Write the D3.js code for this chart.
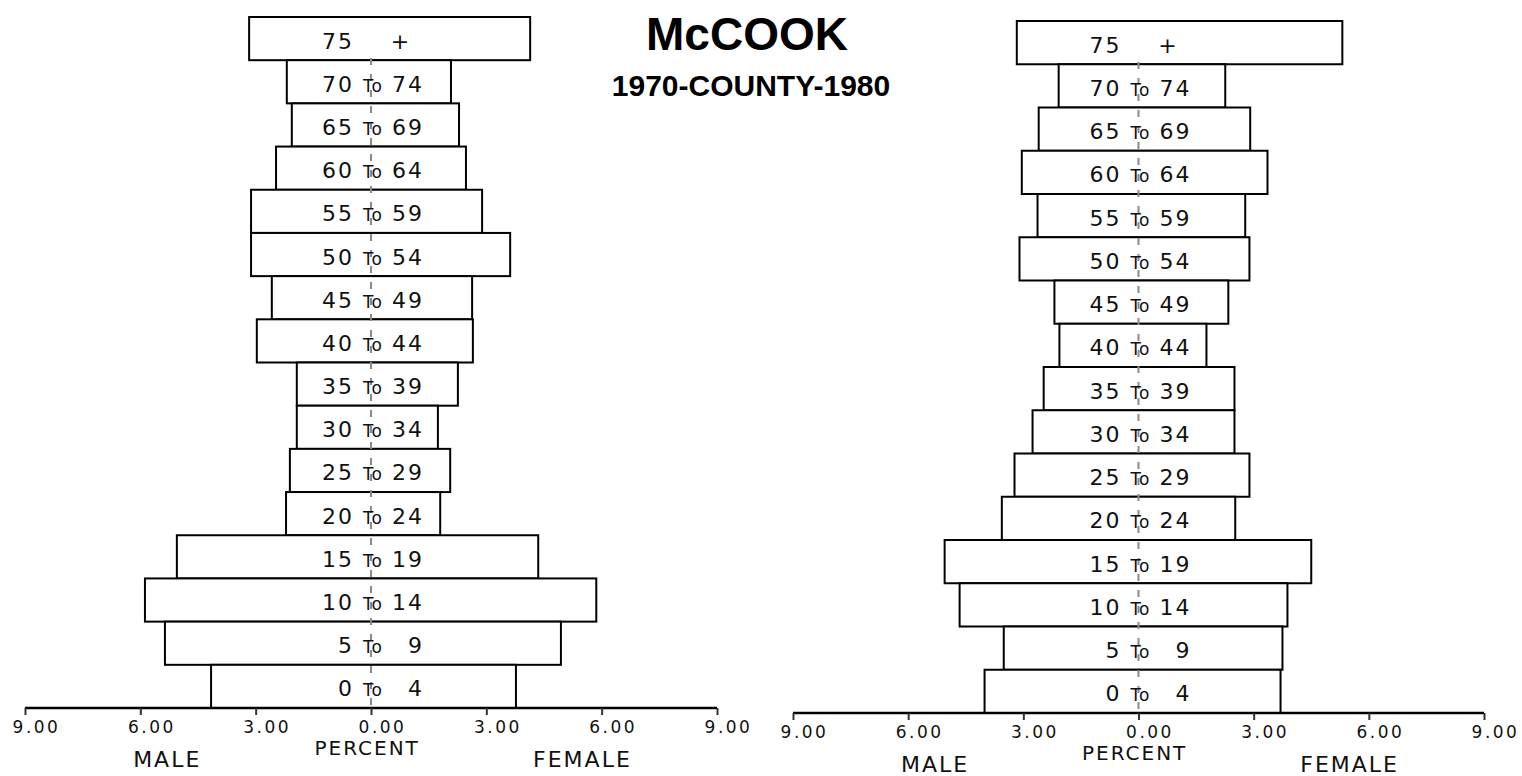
<!DOCTYPE html>
<meta charset="utf-8">
<style>
    body { margin: 0; background: #fff; }
    svg { display: block; }
    .box { fill: #fff; stroke: #000; stroke-width: 2; }
    .mid { stroke: #8a8a8a; stroke-width: 2; stroke-dasharray: 7,9; }
    .age { font-family: "DejaVu Sans", sans-serif; font-size: 22px; letter-spacing: 2px; fill: #111; }
    .age .to { font-size: 17px; letter-spacing: 1px; }
    .tick text { font-family: "DejaVu Sans", sans-serif; font-size: 17px; letter-spacing: 2.5px; fill: #111; }
    .lab { font-family: "DejaVu Sans", sans-serif; fill: #111; }
    .title { font-family: "Liberation Sans", Arial, sans-serif; font-weight: bold; fill: #000; }
</style>

<svg width="1522" height="776"></svg>
<script src="https://d3js.org/d3.v7.min.js"></script>

<script>
    // age groups, oldest first (top of pyramid)
    var ages = ["75+", "70-74", "65-69", "60-64", "55-59", "50-54", "45-49", "40-44",
                "35-39", "30-34", "25-29", "20-24", "15-19", "10-14", "5-9", "0-4"];

    // percent of county population, 1970
    var male1970   = [3.17, 2.19, 2.06, 2.47, 3.12, 3.12, 2.58, 2.97, 1.93, 1.93, 2.11, 2.21, 5.05, 5.88, 5.36, 4.16];
    var female1970 = [4.14, 2.08, 2.29, 2.47, 2.89, 3.62, 2.63, 2.65, 2.26, 1.74, 2.06, 1.80, 4.35, 5.86, 4.94, 3.77];

    // percent of county population, 1980
    var male1980   = [3.17, 2.08, 2.60, 3.04, 2.63, 3.10, 2.19, 2.06, 2.47, 2.76, 3.23, 3.56, 5.05, 4.66, 3.51, 4.01];
    var female1980 = [5.31, 2.26, 2.91, 3.36, 2.78, 2.89, 2.34, 1.77, 2.50, 2.50, 2.89, 2.52, 4.50, 3.88, 3.75, 3.70];

    var tickValues = [-9, -6, -3, 0, 3, 6, 9];

    var svg = d3.select("svg");

    var panels = [
        { male: male1970, female: female1970, x0: 25,  x1: 717,  top: 17, axisY: 708 },
        { male: male1980, female: female1980, x0: 793, x1: 1484, top: 21, axisY: 713 }
    ];

    panels.forEach(function (p) { drawPyramid(p); });

    function drawPyramid (p) {
        var x = d3.scaleLinear().domain([-9, 9]).range([p.x0, p.x1]);
        var y = d3.scaleBand().domain(ages).range([p.top, p.axisY]);
        var cx = x(0);
        var g = svg.append("g");

        var rows = ages.map(function (a, i) { return { age: a, m: p.male[i], f: p.female[i] }; });

        g.selectAll("rect.box")
            .data(rows)
            .enter().append("rect")
            .attr("class", "box")
            .attr("x", function (d) { return x(-d.m); })
            .attr("y", function (d) { return y(d.age); })
            .attr("width", function (d) { return x(d.f) - x(-d.m); })
            .attr("height", y.bandwidth());

        g.append("line")
            .attr("class", "mid")
            .attr("x1", cx).attr("x2", cx)
            .attr("y1", p.top + y.bandwidth() * 0.95).attr("y2", p.axisY);

        // age labels, laid out like the fixed-width plotter text
        var lab = g.selectAll("g.age")
            .data(rows)
            .enter().append("g")
            .attr("class", "age")
            .attr("transform", function (d) { return "translate(" + cx + "," + (y(d.age) + y.bandwidth() / 2 + 10) + ")"; });

        lab.each(function (d) {
            var s = d3.select(this);
            if (d.age == "75+") {
                s.append("text").attr("x", -17).attr("text-anchor", "end").text("75");
                s.append("text").attr("x", 30).attr("text-anchor", "middle").text("+");
                return;
            }
            var parts = d.age.split("-");
            s.append("text").attr("x", -17).attr("text-anchor", "end").text(parts[0]);
            s.append("text").attr("x", 2).attr("text-anchor", "middle")
                .append("tspan").attr("class", "to").text("To");
            s.append("text").attr("x", 53).attr("text-anchor", "end").text(parts[1]);
        });

        var axis = d3.axisBottom(x)
            .tickValues(tickValues)
            .tickSize(7)
            .tickFormat(function (d) { return d3.format(".2f")(Math.abs(d)); });

        var ax = g.append("g")
            .attr("transform", "translate(0," + p.axisY + ")")
            .call(axis);
        ax.select(".domain").attr("stroke", "#000").attr("stroke-width", 2.5).attr("d", "M" + p.x0 + ",0H" + p.x1);
        ax.selectAll(".tick line").attr("stroke", "#333").attr("stroke-width", 2);
        ax.selectAll(".tick text").attr("dx", 11).attr("y", 13);

        g.append("text").attr("class", "lab")
            .attr("x", x(-0.1)).attr("y", p.axisY + 47)
            .attr("text-anchor", "middle").style("font-size", "20px").style("letter-spacing", "2px")
            .text("PERCENT");
        g.append("text").attr("class", "lab")
            .attr("x", x(-5.3)).attr("y", p.axisY + 59)
            .attr("text-anchor", "middle").style("font-size", "22px").style("letter-spacing", "2px")
            .text("MALE");
        g.append("text").attr("class", "lab")
            .attr("x", x(5.5)).attr("y", p.axisY + 59)
            .attr("text-anchor", "middle").style("font-size", "22px").style("letter-spacing", "2px")
            .text("FEMALE");
    }

    svg.append("text").attr("class", "title")
        .attr("x", 747).attr("y", 50)
        .attr("text-anchor", "middle").style("font-size", "46px")
        .text("McCOOK");
    svg.append("text").attr("class", "title")
        .attr("x", 751).attr("y", 96)
        .attr("text-anchor", "middle").style("font-size", "30px")
        .text("1970-COUNTY-1980");
</script>
